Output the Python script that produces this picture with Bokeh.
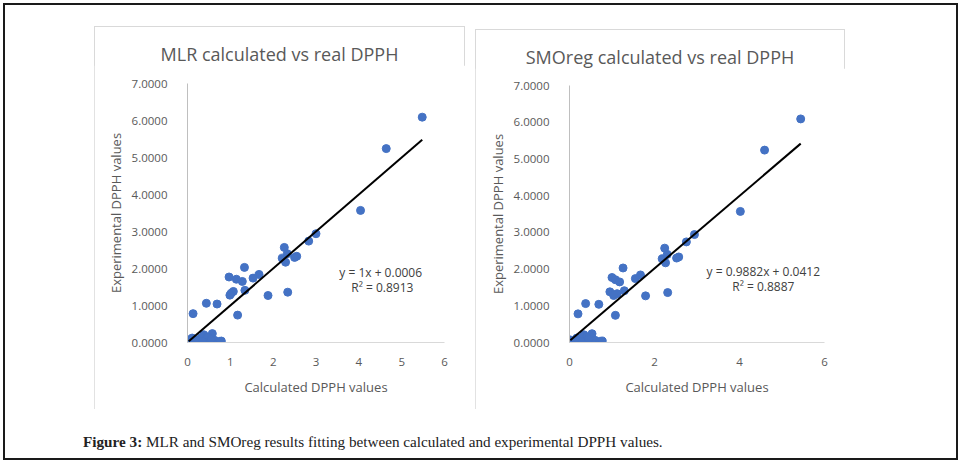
from bokeh.plotting import figure
from bokeh.models import Range1d, Label, FixedTicker, PrintfTickFormatter, Spacer, Div
from bokeh.layouts import row, column
from bokeh.embed import file_html
from bokeh.resources import INLINE

# ---- data ----
experimental = [6.09, 5.24, 3.57, 2.94, 2.74, 2.57, 2.33, 2.30, 2.28, 2.17,
                2.03, 1.84, 1.77, 1.74, 1.71, 1.65, 1.41, 1.38, 1.33, 1.28,
                1.27, 1.36, 1.06, 1.04, 0.78, 0.74, 0.07, 0.12, 0.07, 0.13,
                0.21, 0.01, 0.10, 0.24, 0.06, 0.03, 0.04, 0.03, 0.15, 0.05,
                0.02, 0.09, 2.40]
mlr_calc = [5.48, 4.64, 4.04, 3.00, 2.83, 2.26, 2.55, 2.50, 2.21, 2.29,
            1.33, 1.67, 0.97, 1.53, 1.14, 1.28, 1.34, 1.07, 1.02, 0.99,
            1.88, 2.34, 0.44, 0.69, 0.13, 1.17, 0.03, 0.11, 0.23, 0.32,
            0.38, 0.42, 0.50, 0.58, 0.63, 0.75, 0.79, 0.30, 0.46, 0.18,
            0.35, 0.55, 2.33]
smo_calc = [5.44, 4.59, 4.02, 2.94, 2.75, 2.24, 2.57, 2.52, 2.18, 2.26,
            1.26, 1.67, 1.00, 1.55, 1.08, 1.18, 1.29, 0.95, 1.12, 1.04,
            1.79, 2.31, 0.38, 0.69, 0.20, 1.08, 0.02, 0.17, 0.25, 0.29,
            0.34, 0.34, 0.49, 0.53, 0.60, 0.71, 0.77, 0.25, 0.41, 0.15,
            0.30, 0.45, 2.30]

mlr_fit = (1.0, 0.0006)
smo_fit = (0.9882, 0.0412)
mlr_eq = ["y = 1x + 0.0006", "R\u00b2 = 0.8913"]
smo_eq = ["y = 0.9882x + 0.0412", "R\u00b2 = 0.8887"]
mlr_title = "MLR calculated vs real DPPH"
smo_title = "SMOreg calculated vs real DPPH"
mlr_xticks = [0, 1, 2, 3, 4, 5, 6]
smo_xticks = [0, 2, 4, 6]
yticks = [0, 1, 2, 3, 4, 5, 6, 7]

FONT = "Open Sans"
GREY = "#595959"


def panel(w, h, top_pad, mbl, mbr, mbt, mbb, xcalc, fit, eq, xticks, title,
          eq_xy, r2_xy):
    title_div = Div(text=title, width=w, height=22, margin=0,
                    styles={"font-family": FONT, "font-size": "18px",
                            "line-height": "22px", "color": GREY,
                            "text-align": "center", "white-space": "nowrap"})
    fh = h - top_pad - 22
    p = figure(width=w, height=fh, output_backend="svg", toolbar_location=None,
               x_range=Range1d(0, 6), y_range=Range1d(0, 7),
               min_border_left=mbl, min_border_right=mbr,
               min_border_top=mbt, min_border_bottom=mbb)
    p.outline_line_color = None
    p.grid.visible = False
    p.background_fill_color = "white"
    p.border_fill_color = "white"

    p.scatter(xcalc, experimental, size=8, color="#4472C4", line_color="#4472C4")
    x0, x1 = min(xcalc), max(xcalc)
    p.line([x0, x1], [fit[0] * x0 + fit[1], fit[0] * x1 + fit[1]],
           line_color="black", line_width=2)

    for ax in (p.xaxis[0], p.yaxis[0]):
        ax.major_tick_line_color = None
        ax.minor_tick_line_color = None
        ax.major_label_text_font = FONT
        ax.major_label_text_font_size = "11.5px"
        ax.major_label_text_color = GREY
        ax.axis_label_text_font = FONT
        ax.axis_label_text_font_size = "13px"
        ax.axis_label_text_font_style = "normal"
        ax.axis_label_text_color = GREY
    p.xaxis.ticker = FixedTicker(ticks=xticks)
    p.yaxis.ticker = FixedTicker(ticks=yticks)
    p.yaxis.formatter = PrintfTickFormatter(format="%.4f")
    p.xaxis.axis_line_color = "#D9D9D9"
    p.yaxis.axis_line_color = "#BFBFBF"
    p.xaxis.axis_label = "Calculated DPPH values"
    p.yaxis.axis_label = "Experimental DPPH values"
    p.xaxis.major_label_standoff = 9
    p.xaxis.axis_label_standoff = 9
    p.yaxis.major_label_standoff = 14
    p.yaxis.axis_label_standoff = 4

    p.add_layout(Label(x=eq_xy[0], y=eq_xy[1], text=eq[0], text_font=FONT,
                       text_font_size="12px", text_color="#404040",
                       text_align="center", text_baseline="middle"))
    p.add_layout(Label(x=r2_xy[0], y=r2_xy[1], text=eq[1], text_font=FONT,
                       text_font_size="12px", text_color="#404040",
                       text_align="center", text_baseline="middle"))
    return column(Spacer(width=w, height=top_pad), title_div, p,
                  width=w, height=h,
                  styles={"outline": "1px solid #D9D9D9",
                          "outline-offset": "-1px", "background": "white"})


panel1 = panel(371, 383, 17, 93, 21, 18, 67, mlr_calc, mlr_fit, mlr_eq,
               mlr_xticks, mlr_title, (4.51, 1.89), (4.55, 1.49))
panel2 = panel(370, 380, 17, 94, 21, 17, 67, smo_calc, smo_fit, smo_eq,
               smo_xticks, smo_title, (4.56, 1.93), (4.56, 1.53))

caption = Div(
    text="<b>Figure 3:</b> MLR and SMOreg results fitting between calculated "
         "and experimental DPPH values.",
    width=820, height=25, margin=0,
    styles={"font-family": "Liberation Serif", "font-size": "15.2px",
            "color": "#222222", "white-space": "nowrap"})

top = row(Spacer(width=94, height=409),
          column(Spacer(width=371, height=26), panel1),
          Spacer(width=10, height=409),
          column(Spacer(width=370, height=29), panel2),
          Spacer(width=116, height=409))
cap_row = row(Spacer(width=83, height=25), caption, Spacer(width=58, height=25))

root = column(top, Spacer(width=961, height=22), cap_row,
              Spacer(width=961, height=7), width=961, height=463,
              styles={"outline": "2px solid #1a1a1a", "outline-offset": "-5px",
                      "background": "white"})

open("out.html", "w").write(file_html(root, INLINE))
